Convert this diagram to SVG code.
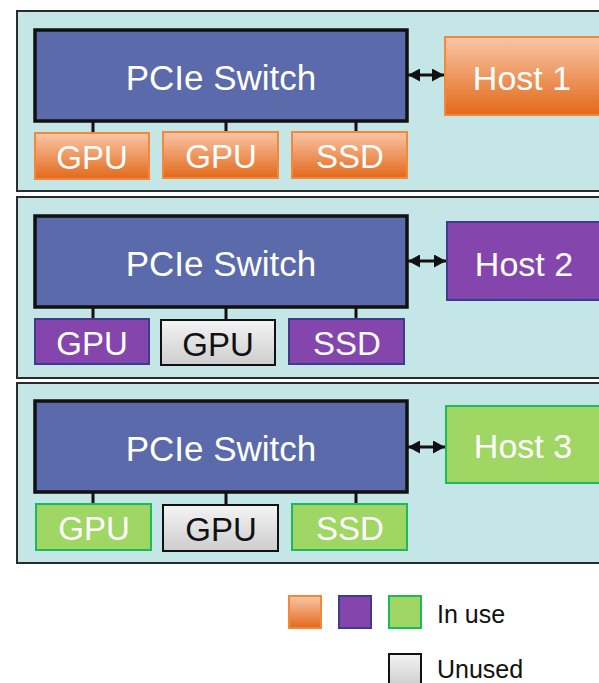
<svg xmlns="http://www.w3.org/2000/svg" width="599" height="683" viewBox="0 0 599 683">
<defs>
<linearGradient id="gOr" x1="0" y1="0" x2="0" y2="1"><stop offset="0" stop-color="#f9c6a6"/><stop offset="1" stop-color="#e2691a"/></linearGradient>
<linearGradient id="gGr" x1="0" y1="0" x2="0" y2="1"><stop offset="0" stop-color="#f4f4f4"/><stop offset="1" stop-color="#cdcdcd"/></linearGradient>
<marker id="ah" viewBox="0 0 12 13" refX="12" refY="6.5" markerWidth="12" markerHeight="13" markerUnits="userSpaceOnUse" orient="auto-start-reverse"><path d="M0,0 L12,6.5 L0,13 Z" fill="#111"/></marker>
<style>
.panel{fill:#c5e6e6;stroke:#2b2b2b;stroke-width:2}
.sw{fill:#5a6aab;stroke:#111;stroke-width:3.5}
.or{fill:url(#gOr);stroke:#f5873a;stroke-width:2}
.pu{fill:#8446ad;stroke:#3e3c8e;stroke-width:2}
.gn{fill:#a0d663;stroke:#19bb5c;stroke-width:2}
.gy{fill:url(#gGr);stroke:#111;stroke-width:2}
.stub{stroke:#111;stroke-width:3}
.arr{stroke:#111;stroke-width:3;fill:none;marker-start:url(#ah);marker-end:url(#ah)}
text{font-family:"Liberation Sans",Arial,sans-serif;text-anchor:middle}
.tw{fill:#fff}
.tb{fill:#111}
.big{font-size:35px}
.dev{font-size:33px}
.host{font-size:34px}
.leg{font-size:25px;text-anchor:start}
</style>
</defs>
<g id="panels">
<rect class="panel" x="17" y="11" width="590" height="180"/>
<rect class="panel" x="17" y="197" width="590" height="181"/>
<rect class="panel" x="17" y="383" width="590" height="180"/>
</g>
<g id="connectors">
<line class="stub" x1="93" y1="121" x2="93" y2="133"/>
<line class="stub" x1="226" y1="121" x2="226" y2="133"/>
<line class="stub" x1="356" y1="121" x2="356" y2="133"/>
<line class="stub" x1="93" y1="307" x2="93" y2="319"/>
<line class="stub" x1="226" y1="307" x2="226" y2="320"/>
<line class="stub" x1="356" y1="307" x2="356" y2="319"/>
<line class="stub" x1="93" y1="492" x2="93" y2="504"/>
<line class="stub" x1="226" y1="492" x2="226" y2="505"/>
<line class="stub" x1="356" y1="492" x2="356" y2="504"/>
<line class="arr" x1="408" y1="75" x2="444" y2="75"/>
<line class="arr" x1="408" y1="261" x2="446" y2="261"/>
<line class="arr" x1="408" y1="447" x2="445" y2="447"/>
</g>
<g id="switch1"><rect class="sw" x="35" y="30" width="372" height="91"/><text class="tw big" x="221" y="90">PCIe Switch</text></g>
<g id="switch2"><rect class="sw" x="35" y="216" width="372" height="91"/><text class="tw big" x="221" y="276">PCIe Switch</text></g>
<g id="switch3"><rect class="sw" x="35" y="401" width="372" height="91"/><text class="tw big" x="221" y="461">PCIe Switch</text></g>
<g id="host1"><rect class="or" x="445" y="37" width="160" height="78"/><text class="tw host" x="522" y="90">Host 1</text></g>
<g id="host2"><rect class="pu" x="447" y="222" width="160" height="78"/><text class="tw host" x="524" y="276">Host 2</text></g>
<g id="host3"><rect class="gn" x="446" y="406" width="160" height="77"/><text class="tw host" x="523" y="458">Host 3</text></g>
<g id="gpu1a"><rect class="or" x="35" y="133" width="114" height="46"/><text class="tw dev" x="92" y="169">GPU</text></g>
<g id="gpu1b"><rect class="or" x="163" y="132" width="115" height="46"/><text class="tw dev" x="221" y="168">GPU</text></g>
<g id="ssd1"><rect class="or" x="292" y="132" width="115" height="46"/><text class="tw dev" x="350" y="168">SSD</text></g>
<g id="gpu2a"><rect class="pu" x="35" y="319" width="114" height="45"/><text class="tw dev" x="92" y="355">GPU</text></g>
<g id="gpu2b"><rect class="gy" x="161" y="320" width="114" height="45"/><text class="tb dev" x="218" y="356">GPU</text></g>
<g id="ssd2"><rect class="pu" x="289" y="319" width="115" height="45"/><text class="tw dev" x="347" y="355">SSD</text></g>
<g id="gpu3a"><rect class="gn" x="36" y="504" width="115" height="46"/><text class="tw dev" x="94" y="540">GPU</text></g>
<g id="gpu3b"><rect class="gy" x="163" y="505" width="115" height="46"/><text class="tb dev" x="221" y="541">GPU</text></g>
<g id="ssd3"><rect class="gn" x="292" y="504" width="115" height="46"/><text class="tw dev" x="350" y="540">SSD</text></g>
<g id="legend">
<rect class="or" x="289" y="596" width="32" height="32"/>
<rect class="pu" x="339" y="596" width="32" height="32"/>
<rect class="gn" x="389" y="596" width="32" height="32"/>
<text class="tb leg" x="437" y="623">In use</text>
<rect class="gy" x="389" y="654" width="32" height="32"/>
<text class="tb leg" x="437" y="678">Unused</text>
</g>
</svg>
